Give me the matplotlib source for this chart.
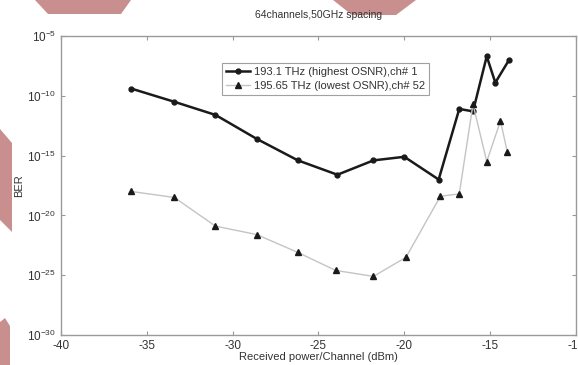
import numpy as np
import matplotlib
matplotlib.use('Agg')
import matplotlib.pyplot as plt
from matplotlib.patches import Polygon

plt.rcParams['font.family'] = ['Liberation Sans', 'DejaVu Sans']
plt.rcParams['mathtext.fontset'] = 'custom'
plt.rcParams['mathtext.rm'] = 'Liberation Sans'

# channel 1 (highest OSNR)
power_ch1 = [-35.9, -33.4, -31.0, -28.6, -26.2, -23.9, -21.8, -20.0, -18.0,
             -16.8, -16.0, -15.2, -14.7, -13.9]
log_ber_ch1 = [-9.4, -10.5, -11.6, -13.6, -15.4, -16.6, -15.4, -15.1, -17.0,
               -11.1, -11.3, -6.7, -8.9, -7.0]

# channel 52 (lowest OSNR)
power_ch52 = [-35.9, -33.4, -31.0, -28.6, -26.2, -24.0, -21.8, -19.9, -17.9,
              -16.8, -16.0, -15.2, -14.4, -14.0]
log_ber_ch52 = [-18.0, -18.5, -20.9, -21.6, -23.1, -24.6, -25.1, -23.5, -18.4,
                -18.2, -10.7, -15.5, -12.1, -14.7]

labels = ['193.1 THz (highest OSNR),ch# 1', '195.65 THz (lowest OSNR),ch# 52']
x_ticks = [-40, -35, -30, -25, -20, -15, -10]
y_exps = [-5, -10, -15, -20, -25, -30]

fig = plt.figure(figsize=(5.78, 3.65), dpi=100)
ax = fig.add_axes([61/578, 1-335/365, 515/578, 299/365])

ax.plot(power_ch1, 10.0**np.array(log_ber_ch1), color='#1a1a1a', lw=1.8,
        marker='o', ms=3.5, mfc='#1a1a1a', mec='#1a1a1a', label=labels[0])
ax.plot(power_ch52, 10.0**np.array(log_ber_ch52), color='#c4c4c4', lw=1.0,
        marker='^', ms=4, mfc='#1a1a1a', mec='#1a1a1a', label=labels[1])

ax.set_yscale('log')
ax.set_xlim(-40, -10)
ax.set_ylim(1e-30, 1e-5)
ax.set_xticks(x_ticks)
ax.set_xticklabels([str(t) for t in x_ticks])
ax.set_yticks([10.0**e for e in y_exps])
ax.set_yticklabels(['$10^{%d}$' % e for e in y_exps])
ax.minorticks_off()
ax.tick_params(direction='in', length=3, colors='#999999', labelcolor='#333333',
               labelsize=8.5, top=True, right=True)
for s in ax.spines.values():
    s.set_color('#9a9a9a')
    s.set_linewidth(1.0)

ax.set_title('64channels,50GHz spacing', fontsize=7.5, color='#333333', pad=13)
ax.set_xlabel('Received power/Channel (dBm)', fontsize=8, color='#333333', labelpad=0)
ax.set_ylabel('BER', fontsize=8, color='#333333', labelpad=2)

leg = ax.legend(loc='upper left', bbox_to_anchor=(155/515, 1-21/299),
                fontsize=8, frameon=True, fancybox=False, handlelength=2.2,
                handletextpad=0.3, borderpad=0.4, labelspacing=0.35)
leg.get_frame().set_edgecolor('#888888')
leg.get_frame().set_linewidth(0.8)
for t in leg.get_texts():
    t.set_color('#333333')

# pink watermark shapes around the chart
pink = '#c98f8f'
shapes = [
    [(35, 0), (131, 0), (121, 14), (48, 14)],
    [(333, 0), (416, 0), (396, 15), (352, 15)],
    [(0, 129), (12, 143), (12, 232), (0, 220)],
    [(0, 322), (5, 318), (10, 326), (10, 365), (0, 365)],
]
for pts in shapes:
    fig.patches.append(Polygon([(px/578, 1-py/365) for px, py in pts],
                               closed=True, transform=fig.transFigure,
                               facecolor=pink, edgecolor='none', zorder=-1))

fig.savefig('out.png', dpi=100)
